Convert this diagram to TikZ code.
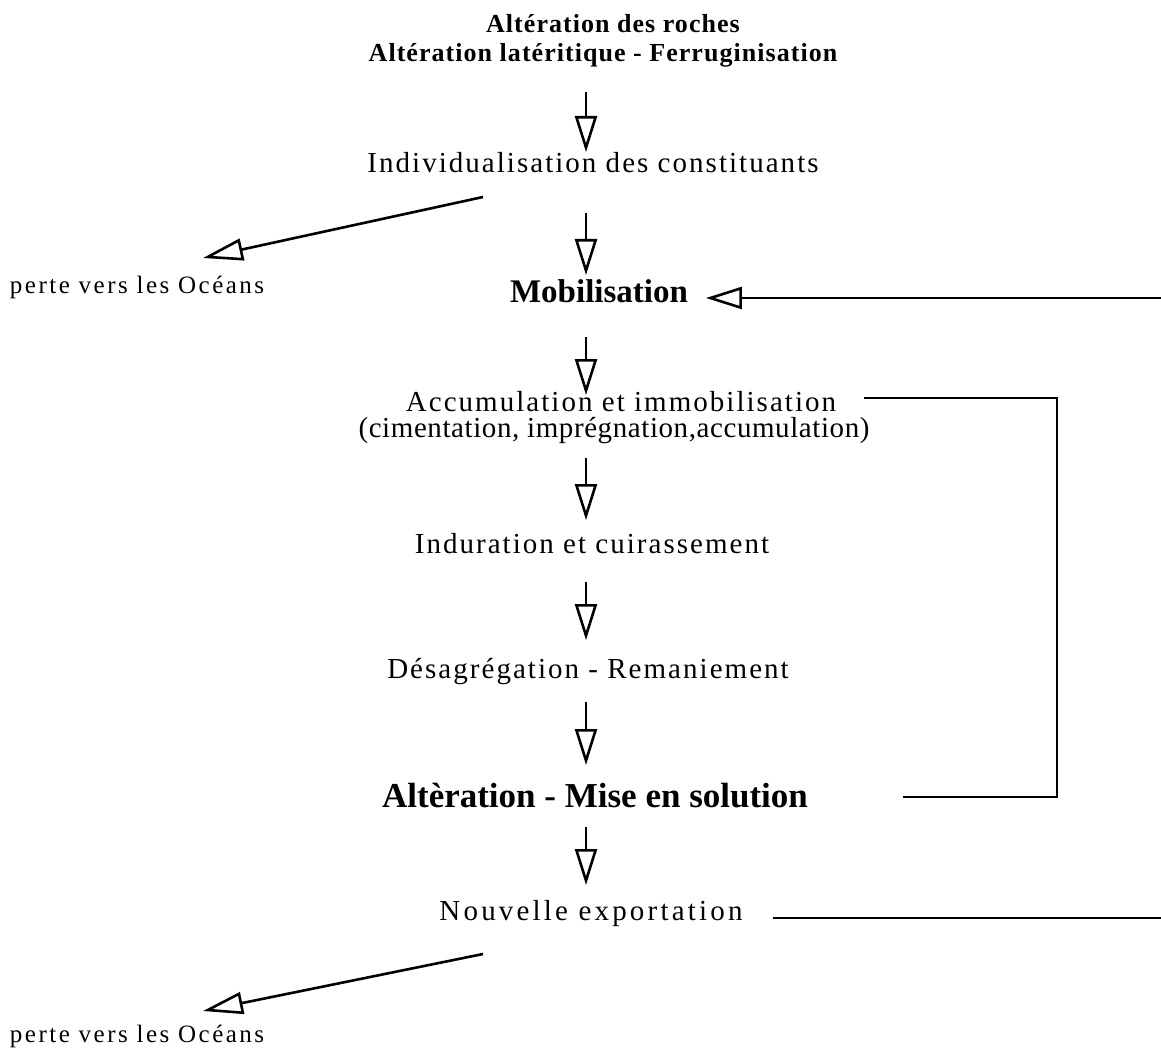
\documentclass[tikz,border=0pt]{standalone}
\usepackage{fontspec}
\setmainfont{Liberation Serif}
\usetikzlibrary{positioning,arrows.meta,calc}

\begin{document}
\begin{tikzpicture}[
  x=0.5pt, y=-0.5pt,
  txt/.style={inner sep=0pt, outer sep=0pt, anchor=base,
    font=\fontsize{14.5}{17}\selectfont\addfontfeature{LetterSpace=#1}},
  txt/.default=7,
  strong/.style={inner sep=0pt, outer sep=0pt, anchor=base, font=\fontsize{#1}{20}\selectfont\bfseries},
  head/.style={inner sep=0pt, outer sep=0pt, anchor=base,
    font=\fontsize{13}{15}\selectfont\bfseries\addfontfeature{LetterSpace=4}},
  side/.style={inner sep=0pt, outer sep=0pt, anchor=base west,
    font=\fontsize{12.5}{15}\selectfont\addfontfeature{LetterSpace=10}},
  flow/.style={-{Triangle[open,length=18pt,width=11pt]}, line width=1.3pt},
  loss/.style={-{Triangle[open,length=20pt,width=11pt]}, line width=1.3pt},
  link/.style={line width=1.3pt}
]
\useasboundingbox (0,0) rectangle (1161,1048);
\coordinate (ax) at (586,0);
\coordinate (loopR) at (1057,0);
\coordinate (ret) at (1161,0);

% central column
\node[head] (roches) at (613,33) {Altération des roches};
\node[head] (lateri) at (603,62) {Altération latéritique - Ferruginisation};
\node[txt] (indiv) at (593,173) {Individualisation des constituants};
\node[strong=16.5] (mobil) at (599,302) {Mobilisation};
\node[txt] (accu) at (621,411) {Accumulation et immobilisation};
\node[txt=2] (accupar) at (614,437) {(cimentation, imprégnation,accumulation)};
\node[txt] (indur) at (592,553) {Induration et cuirassement};
\node[txt] (desag) at (588,678) {Désagrégation - Remaniement};
\node[strong=17.5] (alter) at (595,807) {Altèration - Mise en solution};
\node[txt=11] (nouv) at (591,920) {Nouvelle exportation};

% losses
\node[side] (perte1) at (10,293) {perte vers les Océans};
\node[side] (perte2) at (10,1042) {perte vers les Océans};
\coordinate (fork1) at (483,197);
\coordinate (fork2) at (483,954);

\draw[flow] ([yshift=-15pt]lateri.base -| ax) -- ([yshift=10.5pt]indiv.base -| ax);
\draw[flow] ([yshift=-20pt]indiv.base -| ax) -- ([yshift=13.5pt]mobil.base -| ax);
\draw[flow] ([yshift=-17.5pt]mobil.base -| ax) -- ([yshift=8pt]accu.base -| ax);
\draw[flow] ([yshift=-10.5pt]accupar.base -| ax) -- ([yshift=16.5pt]indur.base -| ax);
\draw[flow] ([yshift=-14.5pt]indur.base -| ax) -- ([yshift=19pt]desag.base -| ax);
\draw[flow] ([yshift=-12pt]desag.base -| ax) -- ([yshift=21pt]alter.base -| ax);
\draw[flow] ([yshift=-10pt]alter.base -| ax) -- ([yshift=17.5pt]nouv.base -| ax);

\draw[loss] (fork1) -- ([xshift=96.5pt,yshift=17.5pt]perte1.base west);
\draw[loss] (fork2) -- ([xshift=96.5pt,yshift=15.5pt]perte2.base west);

% recycling
\draw[flow] ([yshift=2pt]mobil.base -| ret) -- ([xshift=9pt,yshift=2pt]mobil.base east);
\draw[link] ([xshift=14pt,yshift=6.5pt]accu.base east) -- ([yshift=6.5pt]accu.base -| loopR)
  -- ([yshift=5pt]alter.base -| loopR) -- ([xshift=47.5pt,yshift=5pt]alter.base east);
\draw[link] ([xshift=15pt,yshift=1pt]nouv.base east) -- ([yshift=1pt]nouv.base -| ret);
\end{tikzpicture}
\end{document}
